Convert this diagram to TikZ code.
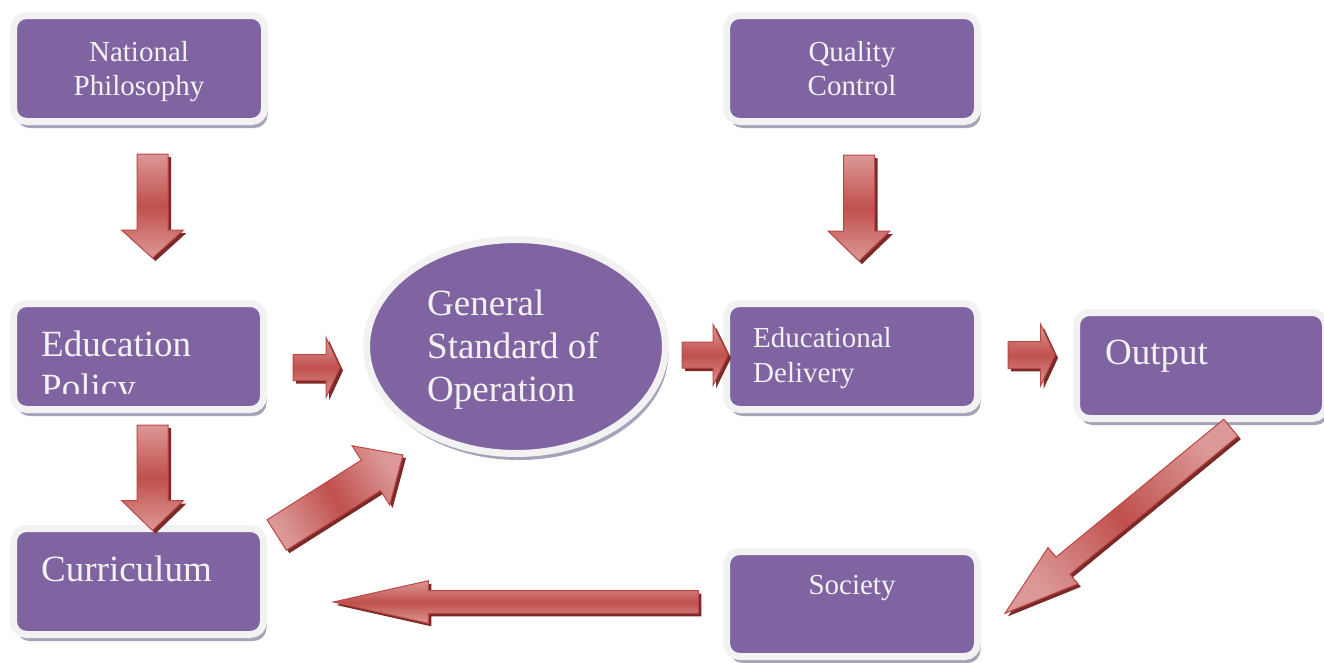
\documentclass[tikz,border=0pt]{standalone}
\usepackage{fontspec}
\setmainfont{Liberation Serif}
\usetikzlibrary{calc,shapes.geometric,shadows}

\definecolor{boxpurple}{RGB}{128,100,162}
\definecolor{framegray}{RGB}{242,242,242}
\definecolor{boxshadow}{RGB}{168,162,184}
\definecolor{txtwhite}{RGB}{242,242,242}
\definecolor{arrowred}{RGB}{192,80,77}
\definecolor{arrowlight}{RGB}{219,152,150}
\definecolor{arrowdark}{RGB}{122,42,40}
\definecolor{arrowedge}{RGB}{188,72,69}

\tikzset{
  framed/.style={fill=boxpurple, draw=framegray, line width=7pt,
    inner sep=0pt, outer sep=0pt,
    drop shadow={shadow xshift=3pt, shadow yshift=-6.5pt, fill=boxshadow, opacity=1}},
  card/.style={framed, rectangle, rounded corners=13pt,
    minimum width=251pt, minimum height=106pt},
  oval/.style={framed, ellipse, minimum width=299pt, minimum height=214pt},
  smalltxt/.style={text=txtwhite, font=\fontsize{29}{35}\selectfont, inner sep=0pt},
  bigtxt/.style={text=txtwhite, font=\fontsize{37}{43}\selectfont, inner sep=0pt, anchor=base west},
  arrowbody/.style={draw=arrowedge, line width=1pt, line join=miter,
    top color=arrowlight, bottom color=arrowlight, middle color=arrowred},
  arrowshade/.style={fill=arrowdark, transform canvas={shift={(3pt,-3pt)}}},
}

% outline of a block arrow: tail, tip, shaft half-width, head half-width
\newcommand\arrowoutline[4]{($(#1)!#3!90:(#2)$) -- ($(ahbase)!#3!90:(#2)$)
  -- ($(ahbase)!#4!90:(#2)$) -- (#2) -- ($(ahbase)!#4!-90:(#2)$)
  -- ($(ahbase)!#3!-90:(#2)$) -- ($(#1)!#3!-90:(#2)$) -- cycle}

% [body options]{tail}{tip}{shaft half-width}{head half-width}{head length}
\newcommand\blockarrow[6][]{%
  \coordinate (ahbase) at ($(#3)!#6!(#2)$);
  \path[arrowshade] \arrowoutline{#2}{#3}{#4}{#5};
  \path[arrowbody,#1] \arrowoutline{#2}{#3}{#4}{#5};
}

\begin{document}
\begin{tikzpicture}[x=1pt,y=-1pt]
\useasboundingbox (0,0) rectangle (1324,662);

% boxes
\node[card] (np)  at (139,68.5) {};
\node[card] (qc)  at (852,68.5) {};
\node[card, minimum width=250pt] (ep)  at (138.5,356.5) {};
\node[card, minimum width=250pt] (cur) at (138.5,581.5) {};
\node[card] (ed)  at (852,356.5) {};
\node[card, minimum width=249pt] (out) at (1201,365.5) {};
\node[card, minimum height=105pt] (soc) at (852,604) {};
\node[oval] (gso) at (516,346.5) {};

% labels
\node[smalltxt, anchor=base] (np1) at (139,61) {National};
\node[smalltxt, anchor=base] (np2) at (139,95) {Philosophy};
\node[smalltxt, anchor=base] (qc1) at (852,61) {Quality};
\node[smalltxt, anchor=base] (qc2) at (852,95) {Control};
\begin{scope}
  \clip (17,300) rectangle (261,393.5);
  \node[bigtxt] (ep1) at (41,356) {Education};
  \node[bigtxt] (ep2) at (41,399) {Policy};
\end{scope}
\node[bigtxt] (cur1) at (41,581) {Curriculum};
\node[bigtxt] (gso1) at (427,315) {General};
\node[bigtxt] (gso2) at (427,358) {Standard of};
\node[bigtxt] (gso3) at (427,401) {Operation};
\node[smalltxt, anchor=base west] (ed1) at (753,347.3) {Educational};
\node[smalltxt, anchor=base west] (ed2) at (753,382.7) {Delivery};
\node[bigtxt] (out1) at (1105,364.5) {Output};
\node[smalltxt, anchor=base] (soc1) at (852,594.3) {Society};

% arrow ends
\coordinate (a1t) at (152.5,154);   \coordinate (a1h) at (152.5,258);
\coordinate (a2t) at (152.5,425);   \coordinate (a2h) at (152.5,530.5);
\coordinate (a6t) at (859,155);     \coordinate (a6h) at (859,261);
\coordinate (a3t) at (293,367.5);   \coordinate (a3h) at (340,367.5);
\coordinate (a4t) at (682,355);     \coordinate (a4h) at (728,355);
\coordinate (a5t) at (1008,355);    \coordinate (a5h) at (1055,355);
\coordinate (a7t) at (276.7,535);   \coordinate (a7h) at (403,455);
\coordinate (a8t) at (1230.8,427.7);\coordinate (a8h) at (1005,613.3);
\coordinate (a9t) at (698.3,602);   \coordinate (a9h) at (333.3,602);

% arrows
\blockarrow{a1t}{a1h}{15.5pt}{31pt}{28pt}
\blockarrow{a2t}{a2h}{15.5pt}{31pt}{30pt}
\blockarrow{a6t}{a6h}{15.5pt}{31pt}{30pt}
\blockarrow{a3t}{a3h}{13pt}{30pt}{14pt}
\blockarrow{a4t}{a4h}{13pt}{30.5pt}{15pt}
\blockarrow{a5t}{a5h}{13.3pt}{30.5pt}{14.3pt}
\blockarrow[shading angle=-58]{a7t}{a7h}{18pt}{35pt}{38pt}
\blockarrow[shading angle=-50]{a8t}{a8h}{11pt}{23.5pt}{75pt}
\blockarrow{a9t}{a9h}{11.3pt}{21.3pt}{95pt}
\end{tikzpicture}
\end{document}
